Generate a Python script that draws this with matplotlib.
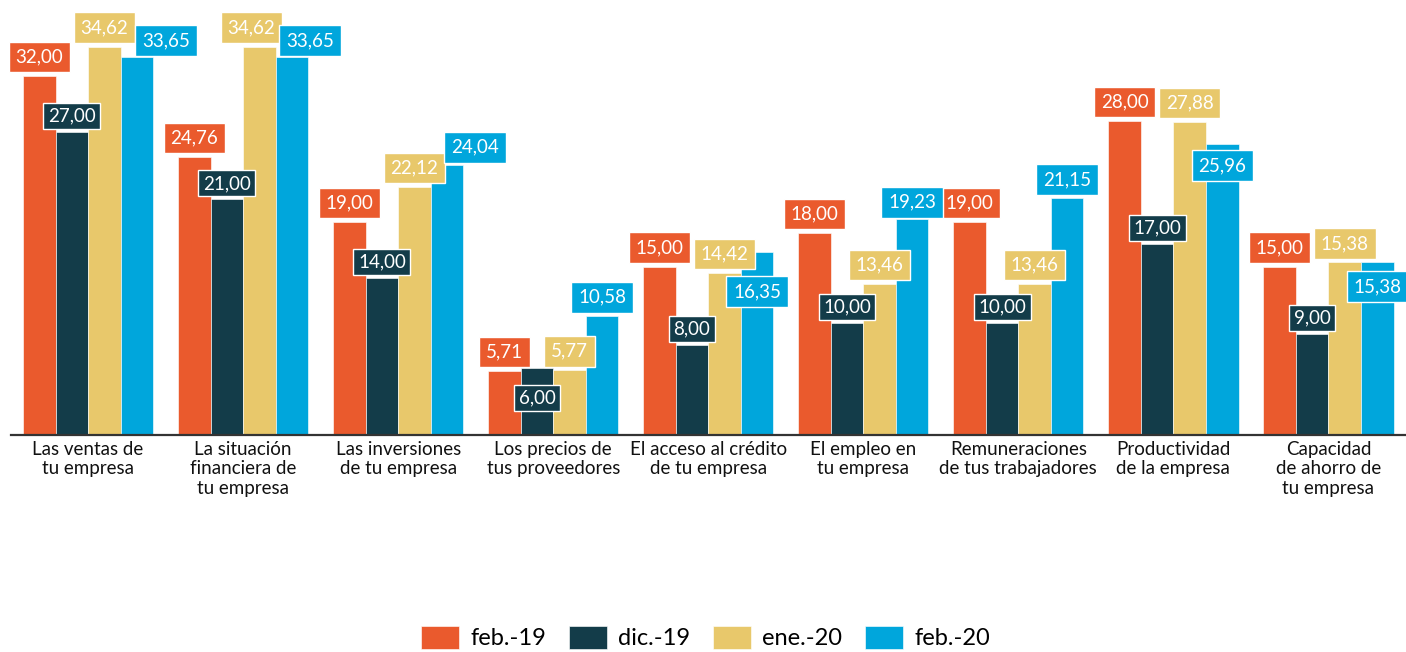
import matplotlib.pyplot as plt
import numpy as np

plt.rcParams["font.family"] = ["Lato", "DejaVu Sans"]

categories = [
    "Las ventas de\ntu empresa",
    "La situación\nfinanciera de\ntu empresa",
    "Las inversiones\nde tu empresa",
    "Los precios de\ntus proveedores",
    "El acceso al crédito\nde tu empresa",
    "El empleo en\ntu empresa",
    "Remuneraciones\nde tus trabajadores",
    "Productividad\nde la empresa",
    "Capacidad\nde ahorro de\ntu empresa",
]
series_names = ["feb.-19", "dic.-19", "ene.-20", "feb.-20"]
feb19 = [32.00, 24.76, 19.00, 5.71, 15.00, 18.00, 19.00, 28.00, 15.00]
dic19 = [27.00, 21.00, 14.00, 6.00, 8.00, 10.00, 10.00, 17.00, 9.00]
ene20 = [34.62, 34.62, 22.12, 5.77, 14.42, 13.46, 13.46, 27.88, 15.38]
feb20 = [33.65, 33.65, 24.04, 10.58, 16.35, 19.23, 21.15, 25.96, 15.38]
series = [feb19, dic19, ene20, feb20]

colors = ["#EA5A2D", "#133C49", "#E8C86B", "#00A6DC"]

# data label placement relative to the bar top, in pixels (Excel-style manual nudges)
label_dy = [
    [19] * 9,
    [16, 16, 16, -30, 16, 16, 16, 16, 16],
    [19] * 9,
    [17, 17, 18, 19, -40, 17, 18, -22, -24],
]
label_dx = [
    [0] * 9,
    [0] * 9,
    [0, -8, 0, 0, 0, 0, 0, 0, 0],
    [29, 18, 28, 0, 0, 0, 0, 0, 0],
]

fig = plt.figure(figsize=(14.06, 6.52), dpi=100)
ax = fig.add_axes([0.0075, 0.3328, 0.9925, 0.6023])

x = np.arange(len(categories))
width = 0.21
offsets = (np.arange(4) - 1.5) * width

for vals, name, col, off in zip(series, series_names, colors, offsets):
    ax.bar(x + off, vals, width, color=col, label=name,
           edgecolor=(1, 1, 1, 0.6), linewidth=0.7, zorder=2)

for i, (vals, col, off) in enumerate(zip(series, colors, offsets)):
    pad = 0.24 if i == 1 else 0.36
    for j, v in enumerate(vals):
        ax.annotate(f"{v:.2f}".replace(".", ","), (x[j] + off, v),
                    xytext=(label_dx[i][j], label_dy[i][j]), textcoords="offset pixels",
                    ha="center", va="center", fontsize=13.5, color="white",
                    zorder=5, annotation_clip=False,
                    bbox=dict(boxstyle=f"square,pad={pad}", facecolor=col,
                              edgecolor="white", linewidth=1.0))

ax.set_xlim(-0.5, len(categories) - 0.5)
ax.set_ylim(0, 35)
ax.set_yticks([])
ax.set_xticks(x)
ax.set_xticklabels(categories, fontsize=13.5, linespacing=1.2, color="#111111")
ax.tick_params(axis="x", length=0, pad=4)
for side in ["top", "right", "left"]:
    ax.spines[side].set_visible(False)
ax.spines["bottom"].set_linewidth(1.6)
ax.spines["bottom"].set_color("#333333")

fig.legend(loc="center", bbox_to_anchor=(0.502, 0.0222), ncol=4, frameon=False,
           fontsize=17, handlelength=1.61, handleheight=1.14, columnspacing=0.97,
           handletextpad=0.47)

fig.savefig("out.png", dpi=100)
